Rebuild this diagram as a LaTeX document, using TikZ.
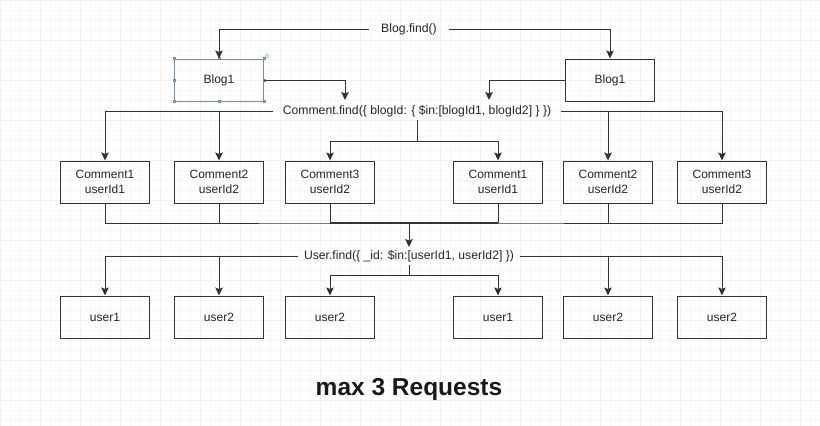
\documentclass[tikz,border=0pt]{standalone}
\usepackage{fontspec}
\setmainfont{Liberation Sans}
\usetikzlibrary{arrows.meta,calc}
\definecolor{ln}{HTML}{333333}
\definecolor{sel}{HTML}{6E8FB0}
\definecolor{hdl}{HTML}{8FB3D6}
\tikzset{
  box/.style={draw=ln, line width=1pt, minimum width=89pt, minimum height=42pt, inner sep=0pt, align=center, font=\fontsize{12}{14.5}\selectfont, text=black!85},
  lbl/.style={inner ysep=3pt, font=\fontsize{12.2}{14}\selectfont, text=black!85},
  con/.style={draw=ln, line width=1pt},
  arr/.style={con, -{Stealth[length=8pt,width=7.5pt,inset=1.5pt]}},
  hd/.style={fill=hdl, draw=sel, line width=0.4pt, inner sep=0pt, minimum size=2.2pt, rectangle}
}
\begin{document}
\begin{tikzpicture}[x=1pt,y=-1pt]
\useasboundingbox (0,0) rectangle (820,426);
\fill[white] (0,0) rectangle (820,426);
\draw[black!3, line width=0.5pt] (0,0) grid[step=10pt] (820,426);
\draw[black!6, line width=0.6pt] (0,0) grid[step=40pt] (820,426);

% labels
\node[lbl, inner xsep=12pt] (bf) at (409,29) {Blog.find()};
\node[lbl, inner xsep=10pt] (cf) at (417,111) {Comment.find(\{ blogId: \{ \$in:[blogId1, blogId2] \} \})};
\node[lbl, inner xsep=6pt] (uf) at (409,256) {User.find(\{ \_id: \$in:[userId1, userId2] \})};

% blogs
\node[box, draw=sel] (b1) at (219,80) {Blog1};
\node[box] (b2) at (610,80) {Blog1};

% comments
\node[box] (c1) at (105,182) {Comment1\\userId1};
\node[box] (c2) at (219,182) {Comment2\\userId2};
\node[box] (c3) at (330,182) {Comment3\\userId2};
\node[box] (c4) at (498,182) {Comment1\\userId1};
\node[box] (c5) at (608,182) {Comment2\\userId2};
\node[box] (c6) at (722,182) {Comment3\\userId2};

% users
\node[box] (u1) at (105,317) {user1};
\node[box] (u2) at (219,317) {user2};
\node[box] (u3) at (330,317) {user2};
\node[box] (u4) at (498,317) {user1};
\node[box] (u5) at (608,317) {user2};
\node[box] (u6) at (722,317) {user2};

\node[font=\fontsize{24.5}{28}\selectfont\bfseries, text=black!90] (title) at (409,389) {max 3 Requests};

% selection handles on left Blog1
\foreach \a in {north west,north,north east,east,south east,south,south west,west}
  \node[hd] at (b1.\a) {};
\node[circle, draw=hdl, line width=0.5pt, inner sep=0pt, minimum size=3.5pt] (rot) at (267,56) {};

% coordinates
\coordinate (cfl) at (345,100);
\coordinate (cfr) at (489,100);
\coordinate (cfm) at (417,141);
\coordinate (bus) at (409,223);
\coordinate (ufm) at (409,275);

% Blog.find
\draw[arr] (bf.west) -| (b1.north);
\draw[arr] (bf.east) -| (b2.north);
\draw[arr] (b1.east) -| (cfl);
\draw[arr] (b2.west) -| (cfr);

% Comment.find
\draw[arr] (cf.west) -| (c1.north);
\draw[arr] (cf.west) -| (c2.north);
\draw[con] (cf.south) -- (cfm);
\draw[arr] (cfm) -| (c3.north);
\draw[arr] (cfm) -| (c4.north);
\draw[arr] (cf.east) -| (c5.north);
\draw[arr] (cf.east) -| (c6.north);

% collect
\draw[con] (c1.south) |- (bus) -| (c6.south);
\draw[con] (c2.south) -- (c2.south |- bus);
\draw[con] (c5.south) -- (c5.south |- bus);
\draw[con] (c3.south) -- (c3.south |- bus);
\draw[con] (c4.south) -- (c4.south |- bus);
\draw[con, line width=1.6pt] (c3.south |- bus) -- (c4.south |- bus);
\draw[arr] (bus) -- (uf.north);

% User.find
\draw[arr] (uf.west) -| (u1.north);
\draw[arr] (uf.west) -| (u2.north);
\draw[con] (uf.south) -- (ufm);
\draw[arr] (ufm) -| (u3.north);
\draw[arr] (ufm) -| (u4.north);
\draw[arr] (uf.east) -| (u5.north);
\draw[arr] (uf.east) -| (u6.north);
\end{tikzpicture}
\end{document}
